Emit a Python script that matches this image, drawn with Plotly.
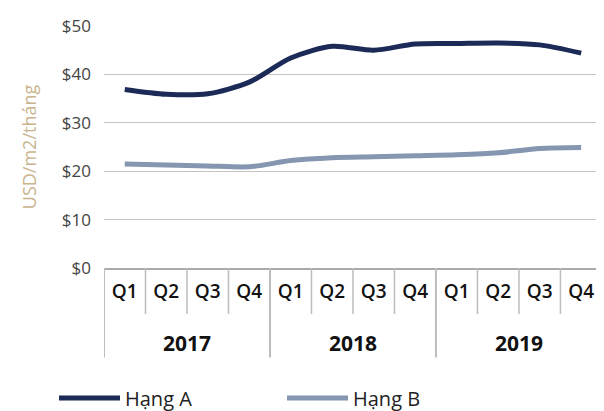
import plotly.graph_objects as go

quarters = ["Q1", "Q2", "Q3", "Q4"] * 3
years = ["2017", "2018", "2019"]
hang_a = [36.9, 35.9, 36.0, 38.4, 43.4, 45.8, 45.0, 46.3, 46.4, 46.5, 46.1, 44.4]
hang_b = [21.5, 21.3, 21.1, 20.9, 22.2, 22.8, 23.0, 23.2, 23.4, 23.8, 24.7, 24.9]
y_ticks = [0, 10, 20, 30, 40, 50]
y_labels = ["$0", "$10", "$20", "$30", "$40", "$50"]

xs = list(range(len(quarters)))

fig = go.Figure()
fig.add_trace(go.Scatter(x=xs, y=hang_a, name="Hạng A", mode="lines",
                         line=dict(color="#1b2a57", width=5, shape="spline", smoothing=0.8)))
fig.add_trace(go.Scatter(x=xs, y=hang_b, name="Hạng B", mode="lines",
                         line=dict(color="#8496b0", width=5, shape="spline", smoothing=0.8)))

# table-like x axis dividers
shapes = []
for i in range(len(quarters) + 1):
    b = i - 0.5
    long = (i % 4 == 0)
    shapes.append(dict(type="line", xref="x", yref="paper", x0=b, x1=b,
                       y0=0, y1=-0.37 if long else -0.19,
                       line=dict(color="#bdbdbd", width=2 if long else 1.5), layer="above"))
annotations = []
for k, yr in enumerate(years):
    annotations.append(dict(x=4 * k + 1.5, y=-0.31, xref="x", yref="paper", text="<b>%s</b>" % yr,
                            showarrow=False, xanchor="center", yanchor="middle",
                            font=dict(family="Open Sans", size=21, color="#111")))

fig.update_layout(
    width=596, height=403,
    margin=dict(l=96, r=0, t=18, b=143, autoexpand=False),
    plot_bgcolor="white", paper_bgcolor="white",
    font=dict(family="Open Sans", color="#111"),
    showlegend=True,
    shapes=shapes,
    annotations=annotations,
    legend=dict(orientation="h", xref="container", yref="container",
                x=0.0772, xanchor="left", y=0.032, yanchor="middle",
                font=dict(size=20, color="#222", family="Open Sans"),
                entrywidth=152, entrywidthmode="pixels", itemwidth=61),
    xaxis=dict(
        range=[-0.5, 11.55],
        tickvals=xs, ticktext=quarters,
        showgrid=False, zeroline=False, automargin=False,
        showline=True, linecolor="#aaaaaa", linewidth=2,
        ticks="", ticklabelstandoff=5,
        tickfont=dict(size=19, color="#111", family="Open Sans", weight=600),
    ),
    yaxis=dict(
        range=[0, 50], automargin=False,
        tickvals=y_ticks, ticktext=y_labels,
        showgrid=True, gridcolor="#c4c4c4", gridwidth=1,
        zeroline=False, showline=False,
        tickfont=dict(size=17, color="#444", family="Open Sans"),
        ticklabelstandoff=12,
        title=dict(text="USD/m2/tháng", font=dict(size=18, color="#c9b48e", family="Open Sans"), standoff=20),
    ),
)

fig.write_html("out.html")
